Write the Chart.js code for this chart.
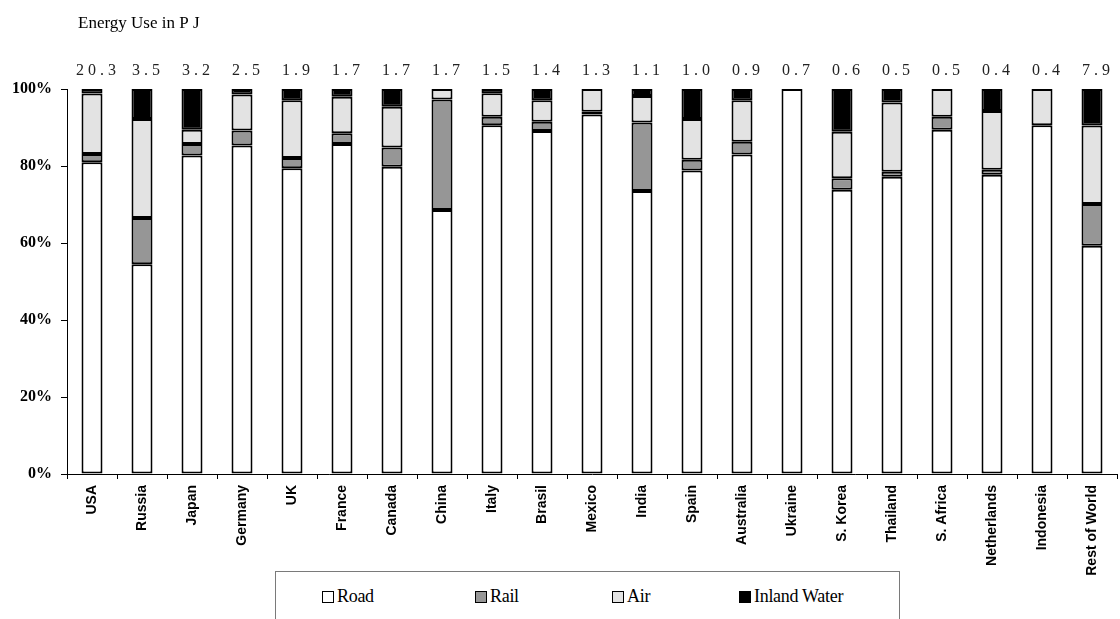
<!DOCTYPE html>
<html>
<head>
<meta charset="utf-8">
<script src="https://cdn.jsdelivr.net/npm/chart.js@4"></script>
<style>
  body { margin: 0; background: #fff; }
  #wrap { position: relative; width: 1120px; height: 619px; overflow: hidden; }
  #legend {
    position: absolute; left: 275px; top: 571px; width: 623px; height: 70px;
    border: 1px solid #7a7a7a; background: #fff;
    font-family: "Liberation Serif", serif; font-size: 18px; color: #000;
  }
  .item { position: absolute; top: 14px; white-space: nowrap; letter-spacing: -0.3px; }
  .box { display: inline-block; width: 10px; height: 10px; border: 1.5px solid #000; vertical-align: -1px; margin-right: 3px; }
</style>
</head>
<body>
<div id="wrap">
  <canvas id="chart" width="1120" height="619"></canvas>
  <div id="legend"></div>
</div>
<script>
// categories + shares (%) per mode
const countries = ["USA", "Russia", "Japan", "Germany", "UK", "France", "Canada", "China", "Italy", "Brasil",
  "Mexico", "India", "Spain", "Australia", "Ukraine", "S. Korea", "Thailand", "S. Africa", "Netherlands",
  "Indonesia", "Rest of World"];
const totals = [20.3, 3.5, 3.2, 2.5, 1.9, 1.7, 1.7, 1.7, 1.5, 1.4, 1.3, 1.1, 1.0, 0.9, 0.7, 0.6, 0.5, 0.5, 0.4, 0.4, 7.9];

const road  = [81, 54.5, 82.7, 85.3, 79.4, 85.7, 79.8, 68.6, 90.6, 89.1, 93.4, 73.5, 78.8, 83.0, 100, 73.8, 77.2, 89.4, 77.7, 90.6, 59.3];
const rail  = [2.1, 12, 3, 3.9, 2.7, 2.8, 5, 28.7, 2.2, 2.4, 0.7, 17.8, 2.8, 3.3, 0, 3, 1.3, 3.4, 1.3, 0, 10.8];
const air   = [15.7, 25.7, 3.7, 9.4, 15, 9.5, 10.6, 2.7, 6.1, 5.6, 5.9, 6.9, 10.6, 10.8, 0, 12.1, 18, 7.2, 15.3, 9.4, 20.4];
const water = [1.2, 7.8, 10.6, 1.4, 2.9, 2, 4.6, 0, 1.1, 2.9, 0, 1.8, 7.8, 2.9, 0, 11.1, 3.5, 0, 5.7, 0, 9.5];

const yTicks = [0, 20, 40, 60, 80, 100];

const series = [
  { label: "Road", data: road, color: "#ffffff", x: 46 },
  { label: "Rail", data: rail, color: "#969696", x: 199 },
  { label: "Air", data: air, color: "#e3e3e3", x: 336 },
  { label: "Inland Water", data: water, color: "#000000", x: 463 }
];

// legend box
const legend = document.getElementById("legend");
series.forEach(s => {
  let d = document.createElement("div");
  d.className = "item";
  d.style.left = s.x + "px";
  d.innerHTML = '<span class="box" style="background:' + s.color + '"></span>' + s.label;
  legend.appendChild(d);
});

// title + totals above the bars
const topText = {
  id: "topText",
  afterDraw(chart) {
    const ctx = chart.ctx;
    const x = chart.scales.x;
    ctx.save();
    ctx.fillStyle = "#000";
    ctx.font = "17px 'Liberation Serif'";
    ctx.textAlign = "left";
    ctx.textBaseline = "alphabetic";
    ctx.fillText("Energy Use in P J", 78, 28);
    ctx.fillStyle = "#222";
    ctx.font = "16px 'Liberation Serif'";
    ctx.textAlign = "center";
    ctx.textBaseline = "middle";
    totals.forEach((t, i) => {
      ctx.fillText(t.toFixed(1).split("").join(" "), x.getPixelForValue(i) + 4, 71);
    });
    ctx.restore();
  }
};

new Chart(document.getElementById("chart"), {
  type: "bar",
  data: {
    labels: countries,
    datasets: series.map(s => ({
      label: s.label,
      data: s.data,
      backgroundColor: s.color,
      borderColor: "#000",
      borderWidth: 2,
      borderSkipped: false,
      barPercentage: 0.42,
      categoryPercentage: 1
    }))
  },
  options: {
    responsive: false,
    animation: false,
    layout: { padding: { top: 89, right: 3, left: 0, bottom: 0 } },
    plugins: { legend: { display: false }, tooltip: { enabled: false } },
    scales: {
      x: {
        stacked: true,
        afterFit: s => { s.height = 145; },
        grid: { drawOnChartArea: false, tickLength: 5, color: "#000", offset: true },
        border: { color: "#000", width: 1 },
        ticks: {
          autoSkip: false, minRotation: 90, maxRotation: 90, padding: 6,
          color: "#000", font: { family: "Liberation Sans", size: 14, weight: "bold" }
        }
      },
      y: {
        stacked: true,
        min: 0, max: 100,
        afterFit: s => { s.width = 67; },
        afterBuildTicks: s => { s.ticks = yTicks.map(v => ({ value: v })); },
        grid: { drawOnChartArea: false, tickLength: 6, color: "#000" },
        border: { color: "#000", width: 1 },
        ticks: {
          padding: 9,
          color: "#000",
          font: { family: "Liberation Serif", size: 16, weight: "bold" },
          callback: v => v + "%"
        }
      }
    }
  },
  plugins: [topText]
});
</script>
</body>
</html>
